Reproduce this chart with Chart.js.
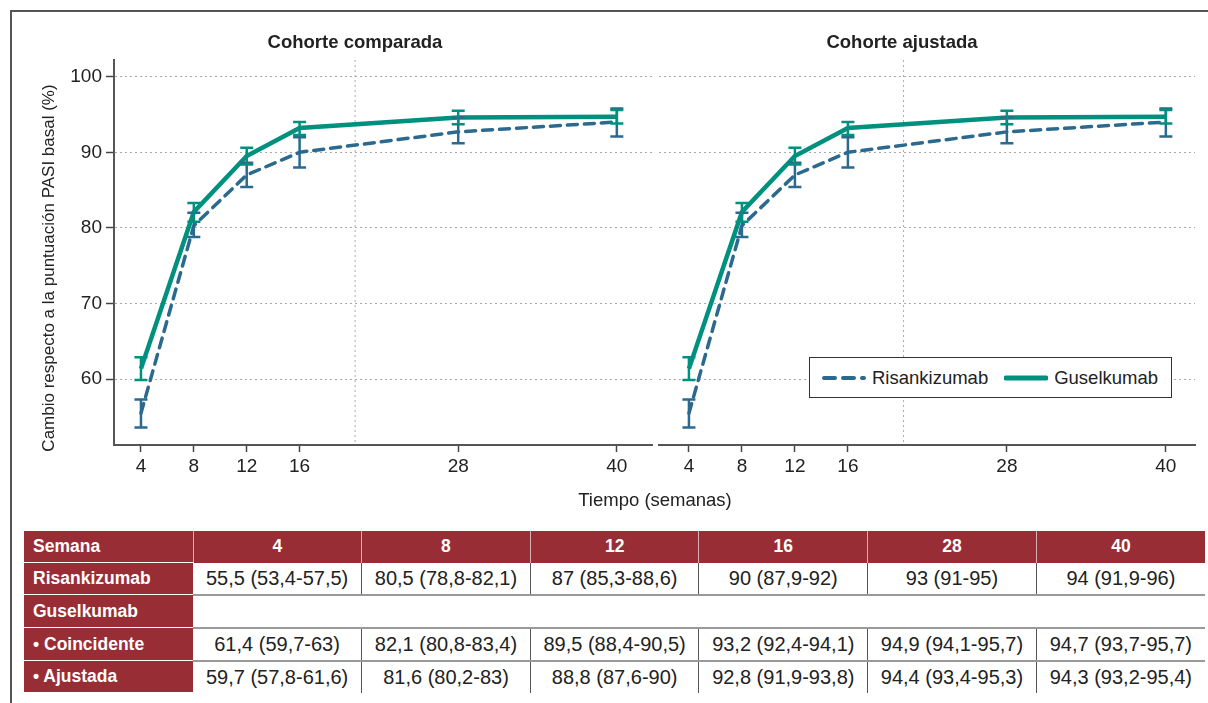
<!DOCTYPE html>
<html>
<head>
<meta charset="utf-8">
<script src="https://cdn.jsdelivr.net/npm/chart.js@4.4.1/dist/chart.umd.min.js"></script>
<style>
  body { margin: 0; width: 1208px; height: 703px; position: relative; overflow: hidden; background: #fff;
         font-family: 'Liberation Sans', Arial, sans-serif; color: #222; }
  #frame { position: absolute; left: 10px; top: 10px; width: 1210px; height: 700px;
           border-top: 2px solid #555; border-left: 2px solid #555; }
  .box { position: absolute; top: 12px; height: 480px; }
  #leftBox { left: 12px; width: 642px; }
  #rightBox { left: 655px; width: 545px; }
  .ptitle { position: absolute; top: 30px; width: 300px; text-align: center; font-weight: bold; font-size: 18.5px; line-height: 24px; color: #222; }
  #xtitle { position: absolute; left: 455px; width: 400px; top: 488px; text-align: center; font-size: 18.5px; line-height: 24px; }
  #legend { position: absolute; left: 809px; top: 357px; width: 361px; height: 39px; border: 1px solid #333; background: #fff;
            display: flex; align-items: center; font-size: 18.5px; }
  #legend svg { margin: 0 6px 0 12px; }
  #legend span { margin-right: 6px; }
  table { position: absolute; left: 24px; top: 531px; width: 1181px; border-collapse: collapse; table-layout: fixed; font-size: 20px; }
  td { height: 31px; padding: 0; text-align: center; white-space: nowrap; }
  td.h { background: #992d35; color: #fff; font-weight: bold; font-size: 17.5px; text-align: left; padding-left: 9px; border-bottom: 1px solid #fff; }
  tr.head td { background: #992d35; color: #fff; font-weight: bold; font-size: 17.5px; border-left: 1px solid #d8b0b4; }
  tr.head td.h { border-left: none; }
  td.v { border-left: 1px solid #555; border-bottom: 2px solid #999; }
  td.v.first { border-left: none; }
  tr.last td.v { border-bottom: none; }
  td.blank { border-bottom: 2px solid #999; }
</style>
</head>
<body>
<div id="frame"></div>
<div class="box" id="leftBox"><canvas id="leftChart"></canvas></div>
<div class="box" id="rightBox"><canvas id="rightChart"></canvas></div>
<div class="ptitle" style="left:205px">Cohorte comparada</div>
<div class="ptitle" style="left:752px">Cohorte ajustada</div>
<div id="xtitle">Tiempo (semanas)</div>
<div id="legend">
  <svg width="44" height="10"><line x1="2" y1="5" x2="42" y2="5" stroke="#2b6a8e" stroke-width="4" stroke-dasharray="11,8" stroke-linecap="round"/></svg><span>Risankizumab</span>
  <svg width="44" height="10" style="margin-left:10px"><line x1="2" y1="5" x2="42" y2="5" stroke="#00907e" stroke-width="5" stroke-linecap="round"/></svg><span>Guselkumab</span>
</div>
<table id="tbl"></table>
<script>
// weeks on the x axis
const weeks = [4, 8, 12, 16, 28, 40];

// values (percent change from baseline PASI)
const risankizumab = [55.5, 80.3, 87.0, 90.0, 92.7, 94.0];
const risankizumabLow = [53.6, 78.8, 85.4, 88.0, 91.2, 92.1];
const risankizumabHigh = [57.3, 82.0, 88.6, 92.0, 94.6, 95.8];
const guselkumab = [61.4, 82.1, 89.5, 93.2, 94.6, 94.7];
const guselkumabLow = [59.9, 80.8, 88.4, 92.3, 93.7, 93.8];
const guselkumabHigh = [62.9, 83.3, 90.6, 94.0, 95.5, 95.6];

const yTicks = [60, 70, 80, 90, 100];

// table text
const tableHeader = ['Semana', '4', '8', '12', '16', '28', '40'];
const rowRisankizumab = ['55,5 (53,4-57,5)', '80,5 (78,8-82,1)', '87 (85,3-88,6)', '90 (87,9-92)', '93 (91-95)', '94 (91,9-96)'];
const rowCoincidente = ['61,4 (59,7-63)', '82,1 (80,8-83,4)', '89,5 (88,4-90,5)', '93,2 (92,4-94,1)', '94,9 (94,1-95,7)', '94,7 (93,7-95,7)'];
const rowAjustada = ['59,7 (57,8-61,6)', '81,6 (80,2-83)', '88,8 (87,6-90)', '92,8 (91,9-93,8)', '94,4 (93,4-95,3)', '94,3 (93,2-95,4)'];

const BLUE = '#2b6a8e';
const TEAL = '#00907e';
const FONT = "'Liberation Sans', Arial, sans-serif";
const Y_TITLE = 'Cambio respecto a la puntuación PASI basal (%)';

function pts(vals) {
    return weeks.map((w, i) => ({ x: w, y: vals[i] }));
}

// error bars drawn through the chart scales
const errorBars = {
    id: 'errorBars',
    afterDatasetsDraw(chart) {
        const ctx = chart.ctx;
        const xs = chart.scales.x, ys = chart.scales.y;
        chart.data.datasets.forEach(ds => {
            ctx.save();
            ctx.strokeStyle = ds.borderColor;
            ctx.lineWidth = 2.5;
            ctx.setLineDash([]);
            weeks.forEach((w, i) => {
                const x = xs.getPixelForValue(w);
                const lo = ys.getPixelForValue(ds.low[i]);
                const hi = ys.getPixelForValue(ds.high[i]);
                ctx.beginPath();
                ctx.moveTo(x, lo); ctx.lineTo(x, hi);
                ctx.moveTo(x - 6.5, lo); ctx.lineTo(x + 6.5, lo);
                ctx.moveTo(x - 6.5, hi); ctx.lineTo(x + 6.5, hi);
                ctx.stroke();
            });
            ctx.restore();
        });
    }
};

// dotted vertical separator between week 16 and 28
const breakLine = {
    id: 'breakLine',
    beforeDatasetsDraw(chart) {
        const ctx = chart.ctx;
        const x = chart.scales.x.getPixelForValue(20.2);
        ctx.save();
        ctx.strokeStyle = '#aaa';
        ctx.lineWidth = 1;
        ctx.setLineDash([2, 3]);
        ctx.beginPath();
        ctx.moveTo(x, chart.chartArea.top);
        ctx.lineTo(x, chart.chartArea.bottom);
        ctx.stroke();
        ctx.restore();
    }
};

// rotated y axis title, sits a bit lower than the plot centre like the original
const yTitle = {
    id: 'yTitle',
    afterDraw(chart, args, opts) {
        if (!opts.text) return;
        const ctx = chart.ctx;
        const a = chart.chartArea;
        ctx.save();
        ctx.translate(a.left - 65, a.bottom - 177);
        ctx.rotate(-Math.PI / 2);
        ctx.font = '17px ' + FONT;
        ctx.fillStyle = '#222';
        ctx.textAlign = 'center';
        ctx.textBaseline = 'middle';
        ctx.fillText(opts.text, 0, 0);
        ctx.restore();
    }
};

function makePanel(id, showY, xMin, xMax) {
    new Chart(document.getElementById(id), {
        type: 'line',
        data: {
            datasets: [{
                label: 'Risankizumab',
                data: pts(risankizumab),
                low: risankizumabLow,
                high: risankizumabHigh,
                borderColor: BLUE,
                borderWidth: 3.5,
                borderDash: [10, 7],
                borderCapStyle: 'round',
                pointRadius: 0,
                order: 2
            }, {
                label: 'Guselkumab',
                data: pts(guselkumab),
                low: guselkumabLow,
                high: guselkumabHigh,
                borderColor: TEAL,
                borderWidth: 4.5,
                pointRadius: 0,
                order: 1
            }]
        },
        options: {
            responsive: true,
            maintainAspectRatio: false,
            animation: false,
            layout: { padding: { top: 48, right: showY ? 2 : 5, left: 0, bottom: 0 } },
            plugins: {
                legend: { display: false },
                title: { display: false },
                tooltip: { enabled: false },
                yTitle: { text: showY ? Y_TITLE : '' }
            },
            scales: {
                x: {
                    type: 'linear',
                    min: xMin,
                    max: xMax,
                    afterBuildTicks: s => { s.ticks = weeks.map(v => ({ value: v })); },
                    afterFit: s => { s.height = 47; },
                    grid: { drawOnChartArea: false, drawTicks: true, tickLength: 7, tickColor: '#444', tickWidth: 1.5 },
                    border: { display: true, color: '#555', width: 2 },
                    ticks: { color: '#222', padding: 3, font: { family: FONT, size: 19 }, maxRotation: 0 }
                },
                y: {
                    min: 51.3,
                    max: 102.2,
                    afterBuildTicks: s => { s.ticks = yTicks.map(v => ({ value: v })); },
                    afterFit: s => { s.width = showY ? 102 : 4; },
                    grid: {
                        color: '#aaa', lineWidth: 1,
                        drawTicks: showY, tickLength: 8, tickColor: '#444', tickWidth: 1.5, tickBorderDash: []
                    },
                    border: { display: showY, color: '#555', width: 2, dash: [2, 3] },
                    ticks: { display: showY, color: '#222', padding: 4, font: { family: FONT, size: 19 } }
                }
            }
        },
        plugins: [breakLine, errorBars, yTitle]
    });
}

function buildTable() {
    const t = document.getElementById('tbl');
    let html = '<colgroup><col style="width:169px">' + '<col>'.repeat(6) + '</colgroup>';
    html += '<tr class="head">' + tableHeader.map((h, i) =>
        i === 0 ? '<td class="h">' + h + '</td>' : '<td>' + h + '</td>').join('') + '</tr>';
    const dataRow = (name, vals, cls) => '<tr class="' + cls + '"><td class="h">' + name + '</td>' +
        vals.map((v, i) => '<td class="v' + (i === 0 ? ' first' : '') + '">' + v + '</td>').join('') + '</tr>';
    html += dataRow('Risankizumab', rowRisankizumab, '');
    html += '<tr><td class="h">Guselkumab</td><td class="blank" colspan="6"></td></tr>';
    html += dataRow('• Coincidente', rowCoincidente, '');
    html += dataRow('• Ajustada', rowAjustada, 'last');
    t.innerHTML = html;
}

buildTable();
makePanel('leftChart', true, 1.96, 42.66);
makePanel('rightChart', false, 1.74, 42.2);
</script>
</body>
</html>
